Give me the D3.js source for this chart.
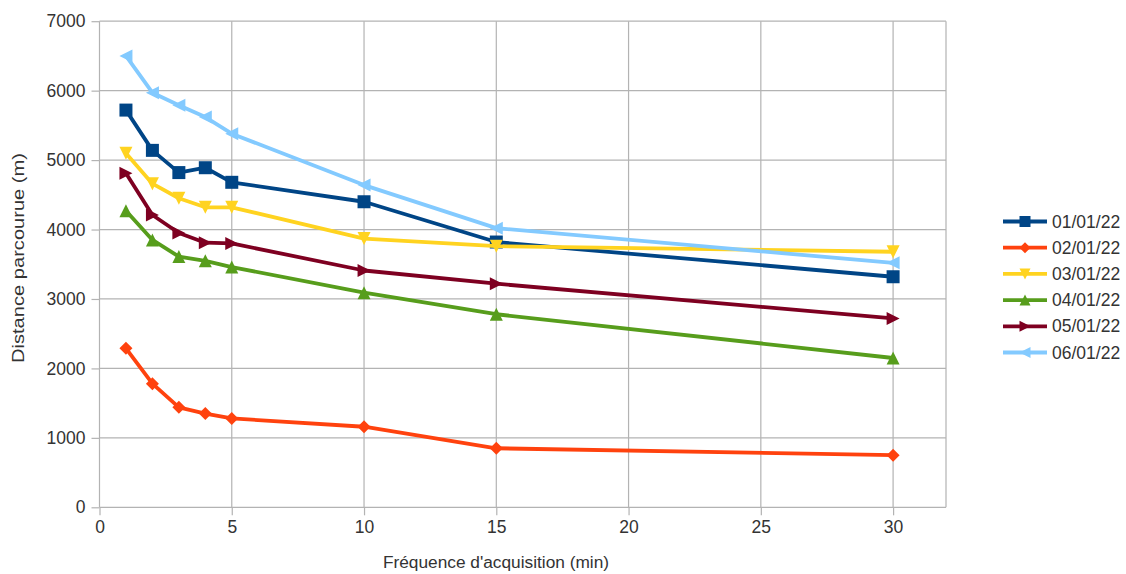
<!DOCTYPE html>
<html><head><meta charset="utf-8">
<script src="https://cdn.jsdelivr.net/npm/d3@7"></script>
<style>body{margin:0;background:#fff;}svg{display:block;font-family:"Liberation Sans",Arial,sans-serif;}</style>
</head><body>
<svg id="c" width="1126" height="574"></svg>
<script>
const xValues = [1, 2, 3, 4, 5, 10, 15, 30];
const seriesNames = ["01/01/22", "02/01/22", "03/01/22", "04/01/22", "05/01/22", "06/01/22"];
const s0101 = [5720, 5140, 4820, 4890, 4680, 4400, 3820, 3320];
const s0201 = [2290, 1780, 1440, 1350, 1280, 1160, 850, 750];
const s0301 = [5100, 4660, 4450, 4320, 4320, 3870, 3760, 3680];
const s0401 = [4270, 3850, 3610, 3550, 3460, 3090, 2780, 2150];
const s0501 = [4810, 4210, 3950, 3810, 3800, 3410, 3220, 2720];
const s0601 = [6500, 5970, 5790, 5620, 5380, 4640, 4020, 3520];
const xTicks = [0, 5, 10, 15, 20, 25, 30];
const yTicks = [0, 1000, 2000, 3000, 4000, 5000, 6000, 7000];
const colors = ["#004586", "#ff420e", "#ffd320", "#579d1c", "#7e0021", "#83caff"];
const markers = ["square", "diamond", "down", "up", "right", "left"];
const allSeries = [s0101, s0201, s0301, s0401, s0501, s0601];

const svg = d3.select("#c");
const L = 99.5, R = 946, T = 21.2, B = 507.3;
const x = d3.scaleLinear().domain([0, 32]).range([L, R]);
const y = d3.scaleLinear().domain([0, 7000]).range([B, T]);
const txt = "#333";

// grid
const g = svg.append("g");
g.selectAll(".gx").data(xTicks.concat([32])).enter().append("line")
  .attr("x1", d => x(d)).attr("x2", d => x(d)).attr("y1", T).attr("y2", B)
  .attr("stroke", "#b3b3b3").attr("stroke-width", 1.2);
g.selectAll(".gy").data(yTicks).enter().append("line")
  .attr("x1", L).attr("x2", R).attr("y1", d => y(d)).attr("y2", d => y(d))
  .attr("stroke", "#b3b3b3").attr("stroke-width", 1.2);

// axes
const xAxis = d3.axisBottom(x).tickValues(xTicks).tickFormat(d3.format("d")).tickSize(8).tickPadding(5);
const yAxis = d3.axisLeft(y).tickValues(yTicks).tickFormat(d3.format("d")).tickSize(8).tickPadding(6);
const gx = svg.append("g").attr("transform", `translate(0,${B})`).call(xAxis);
const gy = svg.append("g").attr("transform", `translate(${L},0)`).call(yAxis);
[gx, gy].forEach(a => {
  a.select(".domain").remove();
  a.selectAll(".tick line").attr("stroke", "#b3b3b3").attr("stroke-width", 1.2);
  a.selectAll(".tick text").attr("font-size", 17.5).attr("fill", txt)
    .attr("font-family", "'Liberation Sans',Arial,sans-serif");
});
gx.selectAll(".tick text").attr("dy", "0.75em");

svg.append("text").attr("x", (383 + 609) / 2).attr("y", 568).attr("text-anchor", "middle")
  .attr("font-size", 17.3).attr("fill", txt).text("Fréquence d'acquisition (min)");
svg.append("text").attr("transform", `translate(24,258) rotate(-90)`)
  .attr("text-anchor", "middle").attr("font-size", 17.3).attr("fill", txt)
  .attr("textLength", 210).attr("lengthAdjust", "spacingAndGlyphs")
  .text("Distance parcourue (m)");

function markerPath(type, s) {
  const h = s / 2;
  switch (type) {
    case "square": return `M${-h},${-h}H${h}V${h}H${-h}Z`;
    case "diamond": return `M0,${-h}L${h},0L0,${h}L${-h},0Z`;
    case "down": return `M${-h},${-h}L${h},${-h}L0,${h}Z`;
    case "up": return `M${-h},${h}L${h},${h}L0,${-h}Z`;
    case "right": return `M${-h},${-h}L${h},0L${-h},${h}Z`;
    case "left": return `M${h},${-h}L${-h},0L${h},${h}Z`;
  }
}
const line = d3.line().x(d => x(d[0])).y(d => y(d[1]));
allSeries.forEach((vals, i) => {
  const pts = xValues.map((xv, j) => [xv, vals[j]]);
  const sg = svg.append("g");
  sg.append("path").attr("d", line(pts)).attr("fill", "none")
    .attr("stroke", colors[i]).attr("stroke-width", 3.8).attr("stroke-linejoin", "round");
  sg.selectAll("path.m").data(pts).enter().append("path").attr("class", "m")
    .attr("transform", d => `translate(${x(d[0])},${y(d[1])})`)
    .attr("d", markerPath(markers[i], 13)).attr("fill", colors[i]);
});

// legend
const lg = svg.append("g");
seriesNames.forEach((n, i) => {
  const yy = 221.5 + i * 26.2;
  lg.append("line").attr("x1", 1003).attr("x2", 1047).attr("y1", yy).attr("y2", yy)
    .attr("stroke", colors[i]).attr("stroke-width", 3.8);
  lg.append("path").attr("transform", `translate(1025,${yy})`)
    .attr("d", markerPath(markers[i], 11)).attr("fill", colors[i]);
  lg.append("text").attr("x", 1052).attr("y", yy).attr("dy", "0.35em")
    .attr("font-size", 17.5).attr("fill", txt).text(n);
});
</script>
</body></html>
